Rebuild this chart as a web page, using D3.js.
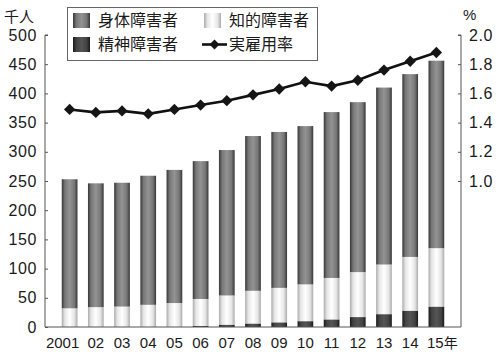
<!DOCTYPE html>
<html>
<head>
<meta charset="utf-8">
<script src="https://cdn.jsdelivr.net/npm/d3@7"></script>
<style>
  body { margin: 0; background: #fff; }
  svg text { font-family: "Liberation Sans", Arial, sans-serif; fill: #1a1a1a; }
  .jp { font-family: "Noto Sans CJK JP", sans-serif; }
</style>
</head>
<body>
<svg></svg>
<script>
let width = 500
let height = 355

let years = ['2001', '02', '03', '04', '05', '06', '07', '08', '09', '10', '11', '12', '13', '14', '15年']
// 千人
let physical = [221, 212, 212, 221, 228, 236, 249, 265, 267, 271, 284, 291, 303, 313, 321]
let intellectual = [32, 34, 35, 38, 41, 46, 50, 56, 59, 63, 71, 77, 85, 92, 100]
let mental = [0, 0, 0, 0, 0, 2, 4, 6, 8, 10, 13, 17, 22, 28, 35]
// %
let rate = [1.49, 1.47, 1.48, 1.46, 1.49, 1.52, 1.55, 1.59, 1.63, 1.68, 1.65, 1.69, 1.76, 1.82, 1.88]

let leftTicks = [0, 50, 100, 150, 200, 250, 300, 350, 400, 450, 500]
let rightTicks = [1.0, 1.2, 1.4, 1.6, 1.8, 2.0]

let seriesKeys = ['mental', 'intellectual', 'physical']
let table = years.map((y, i) => ({
  year: y,
  mental: mental[i],
  intellectual: intellectual[i],
  physical: physical[i]
}))

let plotLeft = 45, plotRight = 461, plotTop = 35, plotBottom = 327

let x = d3.scaleBand()
          .domain(years)
          .range([plotLeft, plotRight])
          .paddingInner(0.4)
          .paddingOuter(0.64)

let y = d3.scaleLinear().domain([0, 500]).range([plotBottom, plotTop])
let y2 = d3.scaleLinear().domain([0, 2.0]).range([plotBottom, plotTop])

let svg = d3.select('svg')
    .attr('width', width)
    .attr('height', height)

// cylinder-like gradients
let defs = svg.append('defs')
let grads = {
  physical: ['#363636', '#939393'],
  intellectual: ['#aaaaaa', '#ffffff'],
  mental: ['#1a1a1a', '#555555']
}
Object.keys(grads).forEach(k => {
  let [edge, mid] = grads[k]
  let g = defs.append('linearGradient')
      .attr('id', 'g-' + k)
      .attr('x1', '0').attr('x2', '1').attr('y1', '0').attr('y2', '0')
  g.append('stop').attr('offset', '0%').attr('stop-color', edge)
  g.append('stop').attr('offset', '20%').attr('stop-color', d3.interpolateRgb(edge, mid)(0.7))
  g.append('stop').attr('offset', '50%').attr('stop-color', mid)
  g.append('stop').attr('offset', '80%').attr('stop-color', d3.interpolateRgb(edge, mid)(0.7))
  g.append('stop').attr('offset', '100%').attr('stop-color', edge)
})

let stacked = d3.stack().keys(seriesKeys)(table)

svg.append('g')
    .classed('bars', true)
  .selectAll('g')
  .data(stacked)
  .enter()
  .append('g')
    .attr('fill', d => `url(#g-${d.key})`)
  .selectAll('rect')
  .data(d => d)
  .enter()
  .append('rect')
    .attr('x', d => x(d.data.year))
    .attr('width', x.bandwidth())
    .attr('y', d => y(d[1]))
    .attr('height', d => y(d[0]) - y(d[1]))

// left axis
let gl = svg.append('g')
    .attr('transform', `translate(${plotLeft},0)`)
    .call(d3.axisRight(y).tickValues(leftTicks).tickSize(3).tickFormat(d3.format('d')))
gl.select('.domain').attr('stroke', '#555').attr('d', `M3,${plotTop}H0V${plotBottom}`)
gl.selectAll('.tick line').attr('stroke', '#555')
gl.selectAll('.tick text')
    .attr('x', -8)
    .attr('text-anchor', 'end')
    .style('font-size', '16px')
    .style('letter-spacing', '0.6px')

// right axis
let gr = svg.append('g')
    .attr('transform', `translate(${plotRight},0)`)
    .call(d3.axisLeft(y2).tickValues(rightTicks).tickSize(3).tickFormat(d3.format('.1f')))
gr.select('.domain').attr('stroke', '#555').attr('d', `M-3,${plotTop}H0V${plotBottom}`)
gr.selectAll('.tick line').attr('stroke', '#555')
gr.selectAll('.tick text')
    .attr('x', 8)
    .attr('text-anchor', 'start')
    .style('font-size', '16px')
    .style('letter-spacing', '0.6px')

// baseline and year labels
svg.append('line')
    .attr('x1', plotLeft).attr('x2', plotRight)
    .attr('y1', plotBottom).attr('y2', plotBottom)
    .attr('stroke', '#555')

svg.append('g')
  .selectAll('text')
  .data(years)
  .enter()
  .append('text')
    .attr('x', (d, i) => x(d) + x.bandwidth() / 2 + (i === 0 ? -7 : d.endsWith('年') ? 6 : 0))
    .attr('y', 348)
    .attr('text-anchor', 'middle')
    .style('font-size', '15px')
    .text(d => d.replace('年', ''))
    .filter(d => d.endsWith('年'))
    .append('tspan')
      .attr('class', 'jp')
      .style('font-size', '14px')
      .text('年')

// rate line
let line = d3.line()
    .x((d, i) => x(years[i]) + x.bandwidth() / 2)
    .y(d => y2(d))

svg.append('path')
    .datum(rate)
    .attr('fill', 'none')
    .attr('stroke', '#111')
    .attr('stroke-width', 2.6)
    .attr('d', line)

svg.append('g')
  .selectAll('path')
  .data(rate)
  .enter()
  .append('path')
    .attr('transform', (d, i) => `translate(${x(years[i]) + x.bandwidth() / 2},${y2(d)}) rotate(45)`)
    .attr('d', d3.symbol().type(d3.symbolSquare).size(64))
    .attr('fill', '#151515')

// unit labels
svg.append('text')
    .attr('class', 'jp')
    .attr('x', 4).attr('y', 22)
    .style('font-size', '15px')
    .text('千人')

svg.append('text')
    .attr('x', 463).attr('y', 20)
    .style('font-size', '15px')
    .text('%')

// legend
let lg = svg.append('g').classed('legend', true)
lg.append('rect')
    .attr('x', 67.5).attr('y', 7.5)
    .attr('width', 250).attr('height', 53)
    .attr('fill', '#fff')
    .attr('stroke', '#666')

let legendItems = [
  { key: 'physical', label: '身体障害者', x: 73, y: 13 },
  { key: 'intellectual', label: '知的障害者', x: 204, y: 13 },
  { key: 'mental', label: '精神障害者', x: 73, y: 37 }
]
legendItems.forEach(d => {
  lg.append('rect')
      .attr('x', d.x).attr('y', d.y)
      .attr('width', 17).attr('height', 15)
      .attr('fill', `url(#g-${d.key})`)
  lg.append('text')
      .attr('class', 'jp')
      .attr('x', d.x + 25).attr('y', d.y + 13)
      .style('font-size', '16px')
      .text(d.label)
})
lg.append('line')
    .attr('x1', 202).attr('x2', 227)
    .attr('y1', 44.5).attr('y2', 44.5)
    .attr('stroke', '#111').attr('stroke-width', 2.6)
lg.append('path')
    .attr('transform', 'translate(214.5,44.5) rotate(45)')
    .attr('d', d3.symbol().type(d3.symbolSquare).size(50))
    .attr('fill', '#151515')
lg.append('text')
    .attr('class', 'jp')
    .attr('x', 229).attr('y', 50)
    .style('font-size', '16px')
    .text('実雇用率')
</script>
</body>
</html>
